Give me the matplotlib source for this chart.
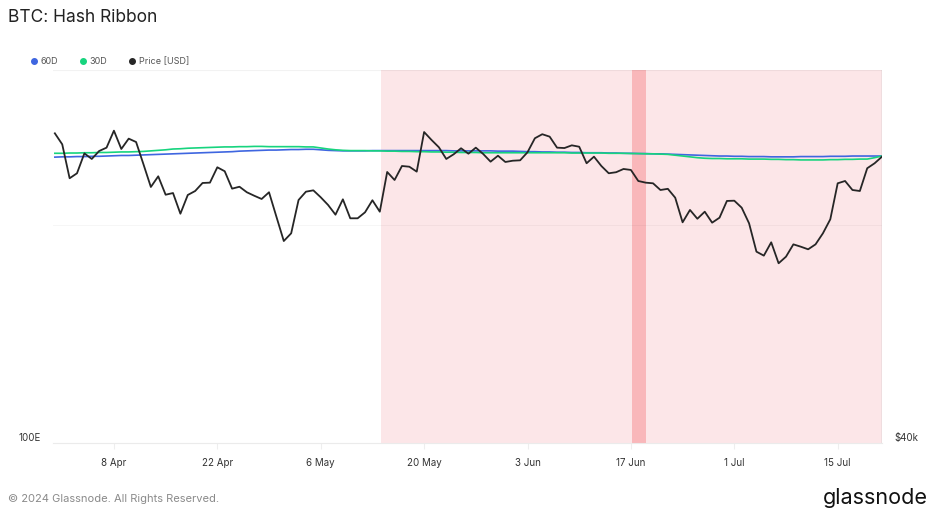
import numpy as np
import pandas as pd
import matplotlib.pyplot as plt
import matplotlib.dates as mdates
from matplotlib.lines import Line2D

plt.rcParams['font.family'] = ['Inter', 'DejaVu Sans']

# daily values, 31 Mar 2024 .. 21 Jul 2024
dates = pd.date_range('2024-03-31', '2024-07-21', freq='D')

# hash rate moving averages [EH/s]
hash_60d = [584, 585, 585, 586, 586, 587, 587, 588, 589, 590, 590, 591,
            592, 593, 594, 595, 596, 597, 598, 599, 600, 601, 602, 603, 604, 606,
            607, 608, 609, 610, 610, 611, 612, 612, 613, 613,
            611, 609, 608, 607, 607,
            607, 607, 608, 608, 608, 608, 608, 608, 608, 608, 608, 608, 608,
            607, 607, 607, 607, 607, 607, 606, 606, 606,
            605, 604, 604, 603, 603, 602, 602, 601, 601, 600, 600, 600,
            599, 599, 598, 598, 597, 597, 596, 596, 595,
            594, 593, 592, 591, 590, 589, 588, 588, 587, 587, 586, 586, 586,
            585, 585, 585, 585, 586, 586, 586, 586, 587, 587, 587, 588, 588, 588, 588, 588]

hash_30d = [598, 598, 599, 599, 600, 600, 601, 601, 602, 603, 603, 604,
            605, 607, 609, 611, 614, 615, 617, 618, 619, 620, 621, 622, 622, 623,
            623, 624, 624, 623, 623, 623, 623, 623, 622, 622,
            618, 614, 611, 609, 608, 608, 608, 607, 607,
            606, 606, 605, 605, 604, 604, 603, 603, 602, 602, 601, 601, 601, 600, 600, 600, 600, 600, 600,
            600, 600, 600, 600, 600, 600, 599, 599, 599, 599, 599, 598, 598, 598, 597, 597, 596, 596, 595, 594,
            591, 588, 585, 582, 580, 579, 579, 578, 578, 578, 577, 577, 577,
            576, 576, 575, 575, 574, 574, 574, 574, 575, 575, 576, 576, 577, 577,
            582, 588]

price_usd = [71120, 69680, 65420, 66030, 68520, 67810, 68820, 69250, 71470, 69080,
             70420, 69980, 67140, 64370, 65660, 63450, 63650, 61250, 63420, 63890,
             64850, 64890, 66770, 66280, 64170, 64400, 63740, 63330, 62950, 63740,
             60910, 58220, 59060, 62830, 63810, 63970, 63150, 62250, 61140, 62910,
             60730, 60730, 61410, 62800, 61480, 66190, 65210, 66930, 66840, 66230,
             71290, 70250, 69300, 67810, 68400, 69170, 68480, 69250, 68440, 67470,
             68220, 67430, 67590, 67640, 68660, 70470, 71000, 70680, 69250, 69200,
             69550, 69370, 67270, 68100, 66930, 66030, 66160, 66560, 66440, 65090,
             64890, 64810, 64010, 64150, 63100, 60280, 61680, 60680, 61480, 60240,
             60800, 62720, 62750, 61940, 60170, 57080, 56660, 58080, 55860, 56550,
             57860, 57610, 57330, 57860, 59060, 60620, 64810, 65090, 64010, 63890,
             66650, 67270, 68100]

# ribbon signal periods
capitulation = ('2024-05-14 05:00', '2024-07-21')
capitulation_peak = ('2024-06-17 02:00', '2024-06-19 02:00')

x_ticks = pd.date_range('2024-04-08', '2024-07-15', freq='14D')

fig = plt.figure(figsize=(9.37, 5.15), dpi=100)
ax = fig.add_axes([53/937, 72/515, 829/937, 373/515])
ax2 = ax.twinx()

ax.axvspan(pd.Timestamp(capitulation[0]), pd.Timestamp(capitulation[1]),
           color='#fce6e8', lw=0, zorder=0)
ax.axvspan(pd.Timestamp(capitulation_peak[0]), pd.Timestamp(capitulation_peak[1]),
           color='#f9b7ba', lw=0, zorder=0)

ax.plot(dates, hash_60d, color='#3f66e0', lw=1.2, zorder=3)
ax.plot(dates, hash_30d, color='#17d47e', lw=1.2, zorder=3)
ax.set_yscale('log')
ax.set_ylim(100, 1000)

ax2.plot(dates, price_usd, color='#262626', lw=1.3, zorder=3)
ax2.set_yscale('log')
ax2.set_ylim(40000, 80000)
ax2.axhline(60000, color='#000000', alpha=0.035, lw=0.8, zorder=1)
ax2.axhline(80000, color='#000000', alpha=0.05, lw=0.8, zorder=1)
ax2.axvline(dates[-1], color='#bdbdbd', lw=1, zorder=2)

ax.set_xlim(dates[0] - pd.Timedelta(hours=6), dates[-1])
ax.set_xticks(x_ticks)
ax.xaxis.set_major_formatter(mdates.DateFormatter('%-d %b'))
ax.tick_params(axis='x', length=4, color='#eeeeee', pad=7, labelsize=7, labelcolor='#333333')

ax.yaxis.set_minor_locator(plt.NullLocator())
ax2.yaxis.set_minor_locator(plt.NullLocator())
ax.set_yticks([100], labels=['100E'])
ax2.set_yticks([40000], labels=['$40k'])
ax.tick_params(axis='y', length=0, pad=9, labelsize=7, labelcolor='#333333')
ax2.tick_params(axis='y', length=0, pad=9, labelsize=7, labelcolor='#333333')
for lab in ax.get_yticklabels() + ax2.get_yticklabels():
    lab.set_va('bottom')

for a in (ax, ax2):
    for s in a.spines.values():
        s.set_visible(False)
ax.spines['bottom'].set_visible(True)
ax.spines['bottom'].set_color('#ebebeb')

handles = [Line2D([], [], marker='o', ls='', color=c, markersize=4)
           for c in ('#3f66e0', '#17d47e', '#262626')]
fig.legend(handles, ['60D', '30D', 'Price [USD]'], loc='center left',
           bbox_to_anchor=(22/937, 1 - 62/515), ncol=3, frameon=False,
           fontsize=6.5, handlelength=0.8, handletextpad=0.3, columnspacing=2.4,
           labelcolor='#555555')

fig.text(8/937, 1 - 17/515, 'BTC: Hash Ribbon', fontsize=12.5, color='#222222', va='center')
fig.text(8/937, 1 - 499/515, '© 2024 Glassnode. All Rights Reserved.', fontsize=8,
         color='#8a8a8a', va='center')
fig.text(928/937, 1 - 498/515, 'glassnode', fontsize=15.5, color='#111111',
         va='center', ha='right')

fig.savefig('out.png', dpi=100)
